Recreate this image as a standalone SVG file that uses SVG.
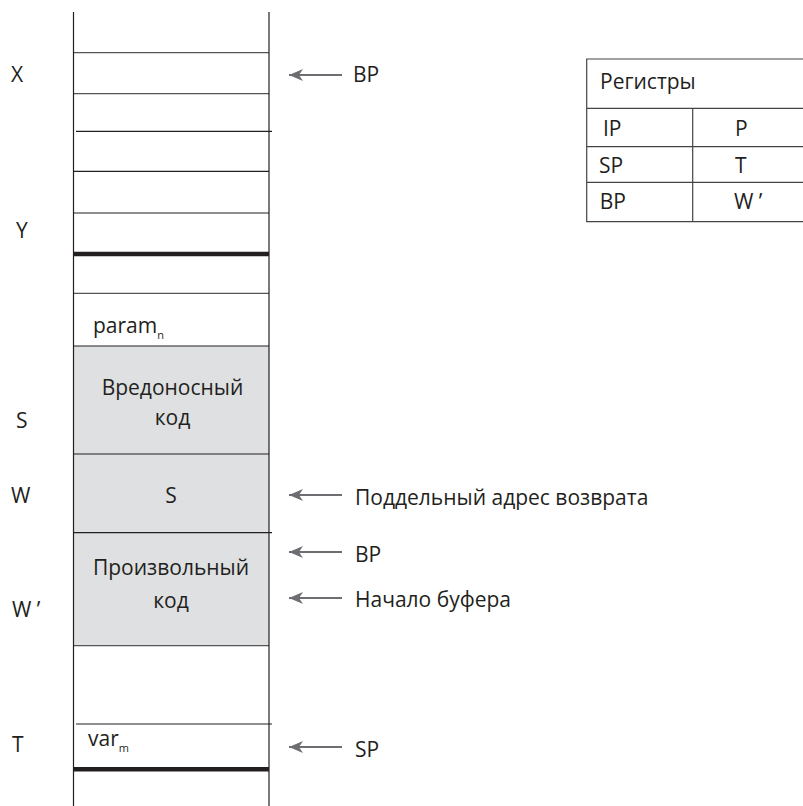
<svg xmlns="http://www.w3.org/2000/svg" width="803" height="806" viewBox="0 0 803 806">
<defs>
<style>
text{font-family:"Open Sans","Noto Sans","DejaVu Sans",sans-serif;font-size:21px;fill:#231f20}
.sub{font-size:11px}
.mid{text-anchor:middle}
.cell{stroke:#555;stroke-width:1.2}
.dark{stroke:#231f20;stroke-width:1.2}
.thick{stroke:#231f20;stroke-width:4.5}
.tbl{stroke:#444;stroke-width:1.2;fill:none}
.arr{stroke:#6d6e71;stroke-width:1.8}
</style>
<marker id="ah" viewBox="0 0 14 12" refX="14" refY="6" markerWidth="14" markerHeight="12" markerUnits="userSpaceOnUse" orient="auto">
<path d="M14,6 L0,0 L4,6 L0,12 Z" fill="#6d6e71"/>
</marker>
</defs>
<rect width="803" height="806" fill="#fff"/>
<g id="stack">
<rect x="73.5" y="346" width="195.5" height="300" fill="#dfe0e2"/>
<line class="cell" x1="73.5" y1="52.7" x2="269" y2="52.7"/>
<line class="cell" x1="73.5" y1="93.7" x2="269" y2="93.7"/>
<line class="dark" x1="76" y1="131.3" x2="272" y2="131.3"/>
<line class="dark" x1="73.5" y1="171.3" x2="269" y2="171.3"/>
<line class="dark" x1="73.5" y1="213" x2="269" y2="213"/>
<line class="thick" x1="73.5" y1="254" x2="269" y2="254"/>
<line class="cell" x1="73.5" y1="293.3" x2="269" y2="293.3"/>
<line class="dark" x1="73.5" y1="346" x2="269" y2="346"/>
<line class="dark" x1="73.5" y1="454" x2="269" y2="454"/>
<line class="dark" x1="73.5" y1="532.7" x2="272" y2="532.7"/>
<line class="cell" x1="73.5" y1="645.7" x2="269" y2="645.7"/>
<line class="dark" x1="76" y1="724" x2="272" y2="724"/>
<line class="thick" x1="73.5" y1="769.3" x2="269" y2="769.3"/>
<line class="dark" x1="73.5" y1="12" x2="73.5" y2="806"/>
<line class="dark" x1="269" y1="12" x2="269" y2="806"/>
</g>
<g id="cells">
<text x="93" y="333">param<tspan class="sub" dy="6">n</tspan></text>
<text class="mid" x="172.5" y="395">Вредоносный</text>
<text class="mid" x="172.5" y="425">код</text>
<text class="mid" x="171" y="503">S</text>
<text class="mid" x="171" y="575">Произвольный</text>
<text class="mid" x="171" y="608">код</text>
<text x="88" y="746">var<tspan class="sub" dy="6">m</tspan></text>
</g>
<g id="addr">
<text x="11" y="82">X</text>
<text x="16" y="238">Y</text>
<text x="16" y="428">S</text>
<text x="11" y="503">W</text>
<text x="12" y="617">W ’</text>
<text x="12" y="752">T</text>
</g>
<g id="connectors">
<line class="arr" x1="342" y1="75" x2="289" y2="75" marker-end="url(#ah)"/>
<line class="arr" x1="342" y1="495" x2="289" y2="495" marker-end="url(#ah)"/>
<line class="arr" x1="342" y1="552" x2="289" y2="552" marker-end="url(#ah)"/>
<line class="arr" x1="342" y1="598" x2="289" y2="598" marker-end="url(#ah)"/>
<line class="arr" x1="342" y1="747" x2="289" y2="747" marker-end="url(#ah)"/>
</g>
<g id="labels">
<text x="353" y="82">BP</text>
<text x="355" y="505">Поддельный адрес возврата</text>
<text x="355" y="562">BP</text>
<text x="355" y="607">Начало буфера</text>
<text x="355" y="757">SP</text>
</g>
<g id="registers">
<path class="tbl" d="M803,59 H586.7 V221.7 H803 M586.7,108.3 H803 M586.7,146.7 H803 M586.7,182.3 H803 M692.7,108.3 V221.7"/>
<text x="600" y="89">Регистры</text>
<text x="603" y="136">IP</text>
<text x="735" y="136">P</text>
<text x="599" y="173">SP</text>
<text x="735" y="173">T</text>
<text x="599.7" y="209">BP</text>
<text x="734" y="209">W ’</text>
</g>
</svg>
